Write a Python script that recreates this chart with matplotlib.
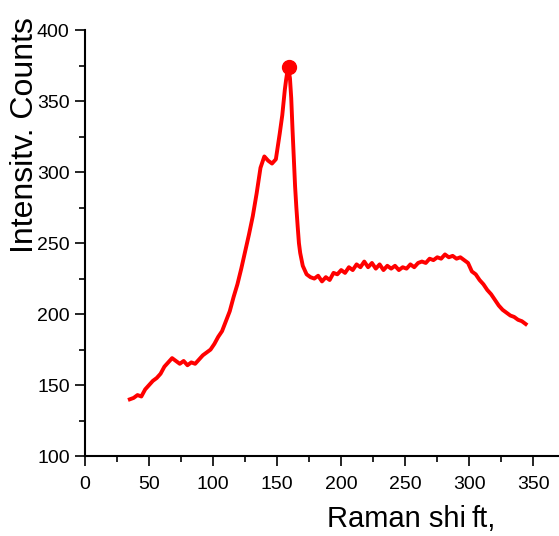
import matplotlib.pyplot as plt
import numpy as np

plt.rcParams['font.family'] = ['Liberation Sans', 'DejaVu Sans']

# Raman spectrum
shift = [35, 38, 41, 44, 47, 50, 53, 56, 59, 62, 65, 68, 71, 74, 77, 80, 83, 86, 89, 92,
         95, 98, 101, 104, 107, 110, 113, 116, 119, 122, 125, 128, 131, 134, 137, 140,
         143, 146, 149, 152, 154, 156, 157, 158, 159, 160, 161, 162, 163, 164, 165, 166,
         167, 168, 170, 173, 176, 179, 182, 185, 188, 191, 194, 197, 200, 203, 206, 209,
         212, 215, 218, 221, 224, 227, 230, 233, 236, 239, 242, 245, 248, 251, 254, 257,
         260, 263, 266, 269, 272, 275, 278, 281, 284, 287, 290, 293, 296, 299, 302, 305,
         308, 311, 314, 317, 320, 323, 326, 329, 332, 335, 338, 341, 344]
counts = [140, 141, 143, 142, 147, 150, 153, 155, 158, 163, 166, 169, 167, 165, 167, 164,
          166, 165, 168, 171, 173, 175, 179, 184, 188, 195, 202, 212, 221, 232, 244, 256,
          269, 285, 303, 311, 308, 306, 309, 327, 340, 358, 365, 371, 372, 366, 352, 330,
          310, 290, 275, 262, 250, 243, 234, 228, 226, 225, 227, 223, 226, 224, 229, 228,
          231, 229, 233, 231, 235, 233, 237, 233, 236, 232, 235, 231, 234, 232, 234, 231,
          233, 232, 235, 233, 236, 237, 236, 239, 238, 240, 239, 242, 240, 241, 239, 240,
          238, 236, 230, 228, 224, 221, 217, 214, 210, 206, 203, 201, 199, 198, 196, 195, 193]

peak_x = 159
peak_y = 374

fig = plt.figure(figsize=(5.59, 5.36), dpi=100)
ax = fig.add_axes([0.152, 0.149, 0.848, 0.795])

ax.plot(shift, counts, color='red', lw=2.8)
ax.plot([peak_x], [peak_y], 'o', color='red', ms=10)

ax.set_xlim(0, 370)
ax.set_ylim(100, 400)
ax.set_xticks(np.arange(0, 351, 50))
ax.set_xticks(np.arange(25, 370, 50), minor=True)
ax.set_yticks(np.arange(100, 401, 50))
ax.set_yticks(np.arange(125, 400, 50), minor=True)

for s in ['top', 'right']:
    ax.spines[s].set_visible(False)
for s in ['left', 'bottom']:
    ax.spines[s].set_linewidth(1.5)

ax.tick_params(axis='both', which='major', length=7, width=1.2, labelsize=14)
ax.tick_params(axis='y', which='major', pad=4)
ax.tick_params(axis='x', which='major', pad=7)
ax.tick_params(axis='both', which='minor', length=4, width=1.2)

# x label (the reference shows the tail of the label squeezed/overlapped)
fig.text(0.585, 0.017, 'Raman shi', fontsize=21, ha='left', va='baseline')
fig.text(0.843, 0.017, 'ft,', fontsize=21, ha='left', va='baseline')
fig.text(0.045, 0.748, 'Intensitv. Counts', fontsize=23, rotation=90,
         ha='center', va='center')

fig.savefig('out.png', dpi=100)
